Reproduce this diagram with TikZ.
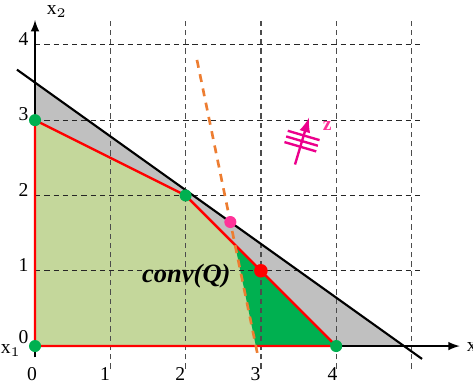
\documentclass[tikz,border=0pt]{standalone}
\usepackage{fontspec}
\setmainfont{LiberationSerif}[
    Extension=.ttf,
    UprightFont=*-Regular,
    BoldFont=*-Bold,
    ItalicFont=*-Italic,
    BoldItalicFont=*-BoldItalic]

\definecolor{hullfill}{HTML}{C4D79B}
\definecolor{cutfill}{HTML}{00B050}
\definecolor{shadefill}{HTML}{C0C0C0}
\definecolor{cutorange}{HTML}{ED7D31}
\definecolor{hitpink}{HTML}{FF3399}

\begin{document}
\begin{tikzpicture}[
    >=latex,
    every node/.style={font=\rmfamily\fontsize{7.4}{8}\selectfont},
    vgrid/.style={draw=black!70, line width=0.5pt, dash pattern=on 2pt off 1.5pt},
    hgrid/.style={draw=black!85, line width=0.45pt, dash pattern=on 2pt off 1.5pt},
    hull/.style={draw=red, line width=0.9pt, line join=round},
    cutline/.style={draw=cutorange, line width=1pt, dash pattern=on 3pt off 2.5pt},
    gdot/.style={circle, fill=cutfill, inner sep=0pt, minimum size=1.6mm},
    rdot/.style={circle, fill=red, inner sep=0pt, minimum size=1.8mm},
    pdot/.style={circle, fill=hitpink, inner sep=0pt, minimum size=1.6mm},
    ticklbl/.style={inner sep=0pt}
]

\useasboundingbox (-0.465,-0.477) rectangle (5.817,4.596);

% Integer points of Q and the two lines
\coordinate (q0) at (0,0);
\coordinate (q1) at (0,3);
\coordinate (q2) at (2,2);
\coordinate (q3) at (3,1);
\coordinate (q4) at (4,0);
\coordinate (b1) at (-0.24,3.671);
\coordinate (b2) at (5.14,-0.171);
\coordinate (o1) at (2.151,3.80);
\coordinate (o2) at (2.96,-0.13);

% Regions: LP relaxation, conv(Q), cut-off part
\fill[shadefill] (q0) -- (intersection of b1--b2 and q0--q1)
    -- (intersection of b1--b2 and q0--q4) -- cycle;
\fill[hullfill] (q0) -- (q1) -- (q2) -- (q4) -- cycle;
\fill[cutfill] (intersection of o1--o2 and q2--q4) -- (q3) -- (q4)
    -- (intersection of o1--o2 and q0--q4) -- cycle;

% Grid
\draw[vgrid] (1,-0.30) -- (1,4.36);
\draw[vgrid] (2,-0.30) -- (2,4.36);
\draw[vgrid] (3,-0.30) -- (3,4.36);
\draw[vgrid] (4,-0.30) -- (4,4.36);
\draw[vgrid] (5,-0.30) -- (5,4.36);
\draw[hgrid] (0,1) -- (5.15,1);
\draw[hgrid] (0,2) -- (5.15,2);
\draw[hgrid] (0,3) -- (5.15,3);
\draw[hgrid] (0,4) -- (5.15,4);

% Axes
\draw[->, line width=0.5pt] (0,-0.15) -- (0,4.33);
\draw[->, line width=0.5pt] (q0) -- (5.64,0);

% Constraint line, hull edges, cut
\draw[line width=0.8pt] (b1) -- (b2);
\draw[hull] (q0) -- (q1) -- (q2) -- (q4) -- cycle;
\draw[cutline] (o1) -- (o2);

% Objective direction with level lines
\draw[->, draw=magenta, line width=0.9pt] (3.453,2.411) -- (3.639,3.033);
\draw[magenta, line width=0.9pt] (3.313,2.709) -- (3.735,2.585);
\draw[magenta, line width=0.9pt] (3.335,2.784) -- (3.757,2.660);
\draw[magenta, line width=0.9pt] (3.357,2.859) -- (3.779,2.735);
\node[text=hitpink, font=\rmfamily\fontsize{7.4}{8}\selectfont\bfseries, anchor=base west]
    (zl) at (3.70,2.86) {z};

% Points
\node[gdot] (d0) at (q0) {};
\node[gdot] (d1) at (q1) {};
\node[gdot] (d2) at (q2) {};
\node[rdot] (d3) at (q3) {};
\node[gdot] (d4) at (q4) {};
\node[pdot] (dp) at (intersection of o1--o2 and b1--b2) {};

% Hull label
\node[font=\rmfamily\fontsize{10}{12}\selectfont\bfseries\itshape, anchor=base west]
    (hl) at (1.30,0.85) {conv(Q)};

% Tick labels
\node[ticklbl] (tx0) at (-0.04,-0.37) {0};
\node[ticklbl] (tx1) at (0.93,-0.37) {1};
\node[ticklbl] (tx2) at (1.93,-0.37) {2};
\node[ticklbl] (tx3) at (2.93,-0.37) {3};
\node[ticklbl] (tx4) at (3.95,-0.37) {4};
\node[ticklbl, anchor=south east] (ty0) at (-0.08,0.02) {0};
\node[ticklbl, anchor=south east] (ty1) at (-0.08,0.98) {1};
\node[ticklbl, anchor=south east] (ty2) at (-0.08,1.98) {2};
\node[ticklbl, anchor=south east] (ty3) at (-0.08,2.98) {3};
\node[ticklbl, anchor=south east] (ty4) at (-0.08,3.98) {4};

% Axis names
\node[anchor=base east, inner sep=0pt] (ax1) at (-0.18,-0.10) {x$_1$};
\node[anchor=base west, inner sep=0pt] (ax2) at (0.15,4.40) {x$_2$};
\node[anchor=base west, inner sep=0pt] (ax3) at (5.73,-0.066) {x};

\end{tikzpicture}
\end{document}
